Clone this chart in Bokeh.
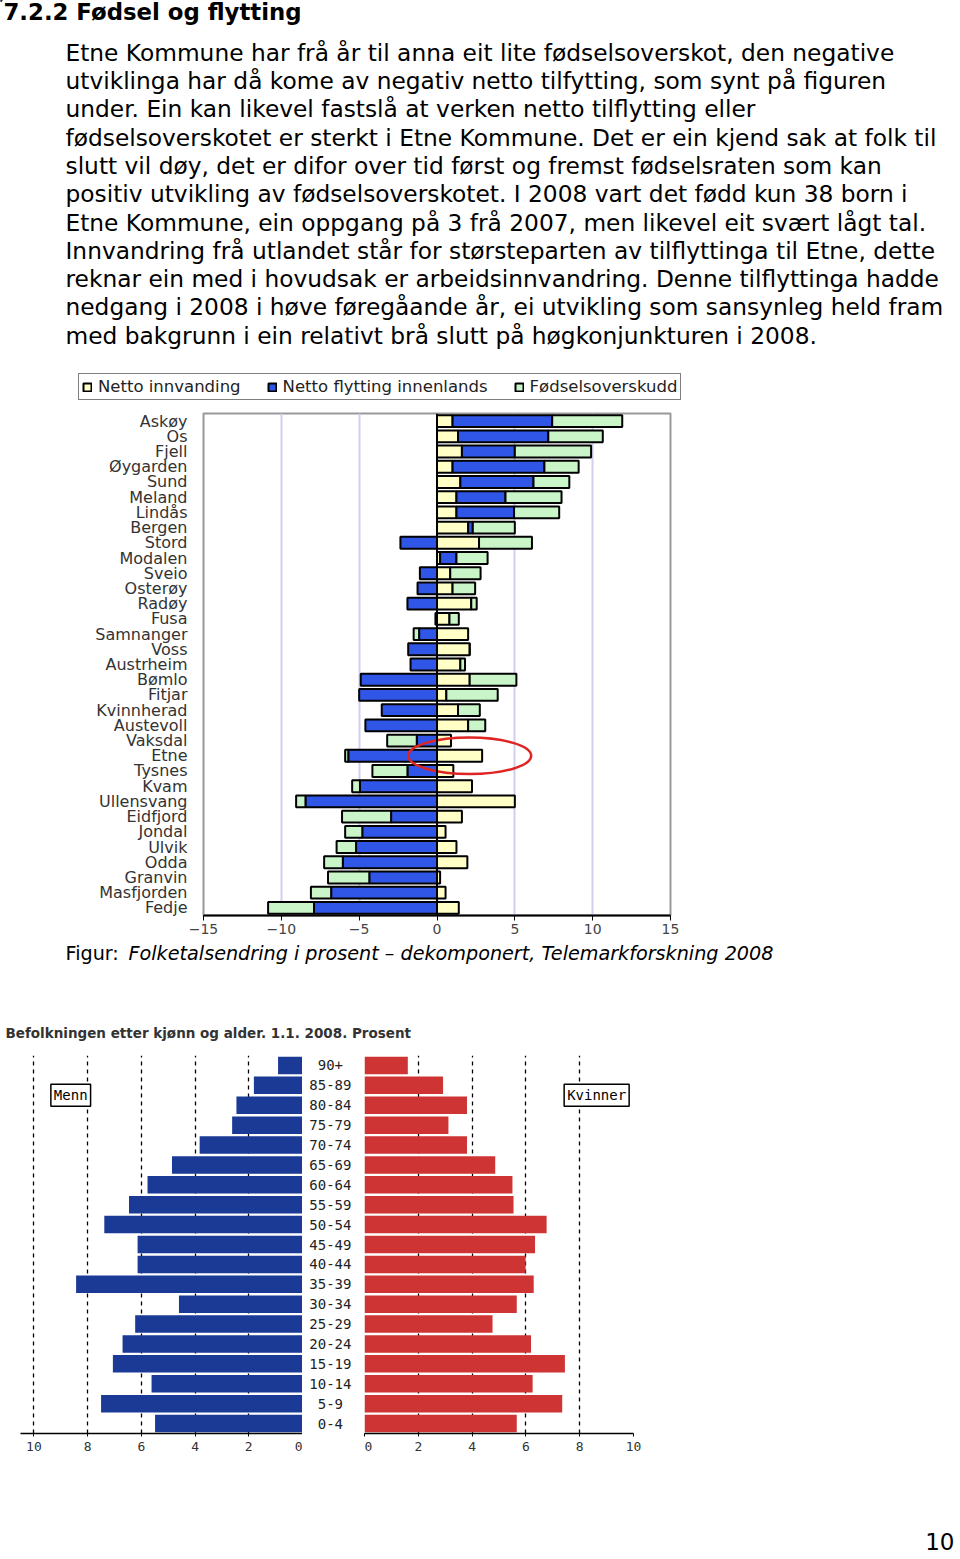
from bokeh.plotting import figure
from bokeh.layouts import column, row
from bokeh.models import (Range1d, FactorRange, FixedTicker, Span, Legend,
                          LegendItem, Label)
from bokeh.core.properties import value
from bokeh.embed import file_html
from bokeh.resources import INLINE

# ---------------- texts ----------------
HEADING = "7.2.2 Fødsel og flytting"
PARAGRAPH = [
    "Etne Kommune har frå år til anna eit lite fødselsoverskot, den negative",
    "utviklinga har då kome av negativ netto tilfytting, som synt på figuren",
    "under.  Ein kan likevel fastslå at verken netto tilflytting eller",
    "fødselsoverskotet er sterkt i Etne Kommune.  Det er ein kjend sak at folk til",
    "slutt vil døy, det er difor over tid først og fremst fødselsraten som kan",
    "positiv utvikling av fødselsoverskotet.  I 2008 vart det fødd kun 38 born i",
    "Etne Kommune, ein oppgang på 3 frå 2007, men likevel eit svært lågt tal.",
    "Innvandring frå utlandet står for størsteparten av tilflyttinga til Etne, dette",
    "reknar ein med i hovudsak er arbeidsinnvandring.  Denne tilflyttinga hadde",
    "nedgang i 2008 i høve føregåande år, ei utvikling som sansynleg held fram",
    "med bakgrunn i ein relativt brå slutt på høgkonjunkturen i 2008.",
]
CAPTION_PREFIX = "Figur:"
CAPTION_TITLE = "Folketalsendring i prosent – dekomponert, Telemarkforskning 2008"
PYRAMID_TITLE = "Befolkningen etter kjønn og alder. 1.1. 2008. Prosent"
PAGE_NUMBER = "10"

# ---------------- chart 1 data ----------------
municipalities = ["Askøy", "Os", "Fjell", "Øygarden", "Sund", "Meland", "Lindås",
                  "Bergen", "Stord", "Modalen", "Sveio", "Osterøy", "Radøy", "Fusa",
                  "Samnanger", "Voss", "Austrheim", "Bømlo", "Fitjar", "Kvinnherad",
                  "Austevoll", "Vaksdal", "Etne", "Tysnes", "Kvam", "Ullensvang",
                  "Eidfjord", "Jondal", "Ulvik", "Odda", "Granvin", "Masfjorden", "Fedje"]
netto_innvandring = [1.0, 1.35, 1.6, 1.0, 1.5, 1.25, 1.25, 2.0, 2.7, 0.2, 0.85, 1.0,
                     2.2, 0.8, 2.0, 2.1, 1.5, 2.1, 0.6, 1.35, 2.0, 0.9, 2.9, 1.05,
                     2.25, 5.0, 1.6, 0.55, 1.25, 1.95, 0.2, 0.55, 1.4]
netto_innenlands = [6.4, 5.8, 3.4, 5.9, 4.7, 3.15, 3.7, 0.3, -2.35, 1.05, -1.1, -1.25,
                    -1.9, -0.1, -1.15, -1.85, -1.7, -4.9, -5.0, -3.55, -4.6, -1.3, -5.7,
                    -1.9, -4.95, -8.45, -2.95, -4.8, -5.2, -6.05, -4.35, -6.8, -7.9]
fodselsoverskudd = [4.5, 3.5, 4.9, 2.2, 2.3, 3.6, 2.9, 2.7, 3.4, 2.0, 1.95, 1.45,
                    0.35, 0.6, -0.35, 0.0, 0.3, 3.0, 3.3, 1.4, 1.1, -1.9, -0.2, -2.25,
                    -0.5, -0.6, -3.15, -1.1, -1.25, -1.2, -2.65, -1.3, -2.95]
SERIES_LABELS = ["Netto innvanding", "Netto flytting innenlands", "Fødselsoverskudd"]
SERIES_COLORS = ["#ffffc6", "#2f56e6", "#c9f5c9"]
X_TICKS = [-15, -10, -5, 0, 5, 10, 15]
GRID_TICKS = [-10, -5, 5, 10]
HIGHLIGHT = "Etne"
HIGHLIGHT_CENTER = 2.1
HIGHLIGHT_WIDTH = 7.9
HIGHLIGHT_HEIGHT = 2.4

# ---------------- chart 2 data ----------------
age_groups = ["0-4", "5-9", "10-14", "15-19", "20-24", "25-29", "30-34", "35-39",
              "40-44", "45-49", "50-54", "55-59", "60-64", "65-69", "70-74",
              "75-79", "80-84", "85-89", "90+"]
menn = [5.49, 7.5, 5.62, 7.06, 6.7, 6.23, 4.6, 8.43, 6.14, 6.14, 7.38, 6.46, 5.77,
        4.86, 3.83, 2.62, 2.46, 1.81, 0.91]
kvinner = [5.66, 7.35, 6.25, 7.45, 6.19, 4.76, 5.66, 6.29, 5.99, 6.34, 6.77, 5.54,
           5.5, 4.86, 3.81, 3.12, 3.81, 2.92, 1.61]
PYR_TICKS = [0, 2, 4, 6, 8, 10]
PYR_GRID = [2, 4, 6, 8, 10]
MEN_COLOR = "#1b3a95"
WOMEN_COLOR = "#cf3434"
SEX_LABEL_X = 8.63
SEX_LABEL_Y = 17.0

BODY_FONT = "DejaVu Sans"
MONO_FONT = "DejaVu Sans Mono"
W = 960


def blank(w, h):
    p = figure(width=w, height=h, x_range=Range1d(0, w), y_range=Range1d(h, 0),
               output_backend="svg", toolbar_location=None,
               x_axis_location=None, y_axis_location=None, min_border=0,
               frame_align=False)
    p.xgrid.visible = False
    p.ygrid.visible = False
    p.outline_line_color = None
    return p


# ---------- A: heading + paragraph + legend of chart 1 ----------
A_H = 405
fa = blank(W, A_H)
fa.text(x=[3], y=[11], text=[HEADING], text_font=value(BODY_FONT),
        text_font_style="bold", text_font_size="22.8px", text_baseline="middle",
        text_color="black")
fa.text(x=[65] * len(PARAGRAPH), y=[51.7 + 28.3 * i for i in range(len(PARAGRAPH))],
        text=PARAGRAPH, text_font=value(BODY_FONT), text_font_size="23.3px",
        text_baseline="middle", text_color="black")

# legend keys (same styling as the bars of chart 1; their one bar lies off-canvas)
key_renderers = [fa.hbar(y=[-100], left=[0], right=[1], height=1, fill_color=c,
                         line_color="black", line_width=2) for c in SERIES_COLORS]
legend = Legend(items=[LegendItem(label=l, renderers=[r])
                       for l, r in zip(SERIES_LABELS, key_renderers)],
                orientation="horizontal", location=(78, A_H - 400),
                border_line_color="black", border_line_width=1.5,
                background_fill_color="white", background_fill_alpha=1.0,
                padding=3, spacing=26, margin=0, glyph_width=10, glyph_height=10,
                label_standoff=6, label_height=14,
                label_text_font=BODY_FONT, label_text_font_size="16.5px",
                label_text_color="#222222")
fa.add_layout(legend)

# ---------- B: stacked bar chart ----------
fb = figure(width=W, height=535, y_range=FactorRange(factors=municipalities[::-1]),
            x_range=Range1d(-15, 15), output_backend="svg", toolbar_location=None,
            min_border_left=203, min_border_right=290, min_border_top=8,
            min_border_bottom=25, frame_align=False)

pos = [0.0] * len(municipalities)
neg = [0.0] * len(municipalities)
for series, color in zip([netto_innvandring, netto_innenlands, fodselsoverskudd],
                         SERIES_COLORS):
    lefts, rights = [], []
    for i, v in enumerate(series):
        if v >= 0:
            lefts.append(pos[i]); rights.append(pos[i] + v); pos[i] += v
        else:
            rights.append(neg[i]); lefts.append(neg[i] + v); neg[i] += v
    fb.hbar(y=municipalities, left=lefts, right=rights, height=0.78,
            fill_color=color, line_color="black", line_width=2)

fb.add_layout(Span(location=0, dimension="height", line_color="black", line_width=2))
fb.ellipse(x=[HIGHLIGHT_CENTER], y=[HIGHLIGHT], width=HIGHLIGHT_WIDTH,
           height=HIGHLIGHT_HEIGHT, fill_color=None, line_color="#e02424",
           line_width=2.5)

fb.xaxis.ticker = FixedTicker(ticks=X_TICKS)
fb.xaxis.major_label_text_font = BODY_FONT
fb.xaxis.major_label_text_font_size = "14px"
fb.xaxis.major_label_text_color = "#444444"
fb.xaxis.axis_line_width = 2
fb.xaxis.major_tick_out = 5
fb.xaxis.major_tick_in = 0
fb.xaxis.minor_tick_line_color = None
fb.xaxis.major_label_standoff = 3
fb.yaxis.axis_line_color = None
fb.yaxis.major_tick_line_color = None
fb.yaxis.major_label_standoff = 10
fb.yaxis.major_label_text_font = BODY_FONT
fb.yaxis.major_label_text_font_size = "16px"
fb.yaxis.major_label_text_color = "#333333"
fb.ygrid.visible = False
fb.xgrid.ticker = FixedTicker(ticks=GRID_TICKS)
fb.xgrid.grid_line_color = "#cfcff0"
fb.xgrid.grid_line_width = 2
fb.outline_line_color = "#999999"
fb.outline_line_width = 2

# ---------- C: caption + pyramid title ----------
fc = blank(W, 110)
fc.text(x=[65], y=[13], text=[CAPTION_PREFIX], text_font=value(BODY_FONT),
        text_font_size="19.2px", text_baseline="middle", text_color="black")
fc.text(x=[128], y=[13], text=[CAPTION_TITLE], text_font=value(BODY_FONT),
        text_font_style="italic", text_font_size="19.2px", text_baseline="middle",
        text_color="black")
fc.text(x=[5], y=[92], text=[PYRAMID_TITLE], text_font=value(BODY_FONT),
        text_font_style="bold", text_font_size="13.5px", text_baseline="middle",
        text_color="#333333")


# ---------- D: population pyramid ----------
def pyramid_panel(width, xr, values, color, mb_left, mb_right, label):
    p = figure(width=width, height=430, x_range=xr,
               y_range=FactorRange(factors=age_groups), output_backend="svg",
               toolbar_location=None, y_axis_location=None,
               min_border_left=mb_left, min_border_right=mb_right,
               min_border_top=5, min_border_bottom=47, frame_align=False)
    p.hbar(y=age_groups, left=0, right=values, height=0.88, fill_color=color,
           line_color=None)
    p.xgrid.ticker = FixedTicker(ticks=PYR_GRID)
    p.xgrid.grid_line_color = "black"
    p.xgrid.grid_line_dash = "4 4"
    p.xgrid.grid_line_width = 1.3
    p.ygrid.visible = False
    p.outline_line_color = None
    p.xaxis.ticker = FixedTicker(ticks=PYR_TICKS)
    p.xaxis.major_label_text_font = MONO_FONT
    p.xaxis.major_label_text_font_size = "13px"
    p.xaxis.major_label_text_color = "#333333"
    p.xaxis.axis_line_width = 1.5
    p.xaxis.major_tick_out = 3
    p.xaxis.major_tick_in = 0
    p.xaxis.minor_tick_line_color = None
    p.xaxis.major_label_standoff = 5
    p.add_layout(Label(x=SEX_LABEL_X, y=SEX_LABEL_Y, text=label,
                       text_align="center", text_baseline="middle",
                       text_font=MONO_FONT, text_font_size="14px",
                       text_color="black", border_line_color="black",
                       border_line_width=1.5, background_fill_color="white",
                       padding=3))
    return p


left = pyramid_panel(302, Range1d(10.5, 0), menn, MEN_COLOR, 20, 0, "Menn")
right = pyramid_panel(596, Range1d(0, 10), kvinner, WOMEN_COLOR, 0, 327, "Kvinner")

mid = figure(width=62, height=430, x_range=Range1d(0, 1),
             y_range=FactorRange(factors=age_groups), output_backend="svg",
             toolbar_location=None, x_axis_location=None, y_axis_location=None,
             min_border_left=0, min_border_right=0, min_border_top=5,
             min_border_bottom=47, frame_align=False)
mid.xgrid.visible = False
mid.ygrid.visible = False
mid.outline_line_color = None
mid.text(x=[0.45] * len(age_groups), y=age_groups, text=age_groups,
         text_font=value(MONO_FONT), text_font_size="14px", text_align="center",
         text_baseline="middle", text_color="#222222")

# ---------- E: footer ----------
fe = blank(W, 75)
fe.text(x=[954], y=[61], text=[PAGE_NUMBER], text_font=value(BODY_FONT),
        text_font_size="23px", text_align="right", text_baseline="middle",
        text_color="black")

layout = column(fa, fb, fc, row(left, mid, right, spacing=0), fe, spacing=0)
open("out.html", "w").write(file_html(layout, INLINE))
